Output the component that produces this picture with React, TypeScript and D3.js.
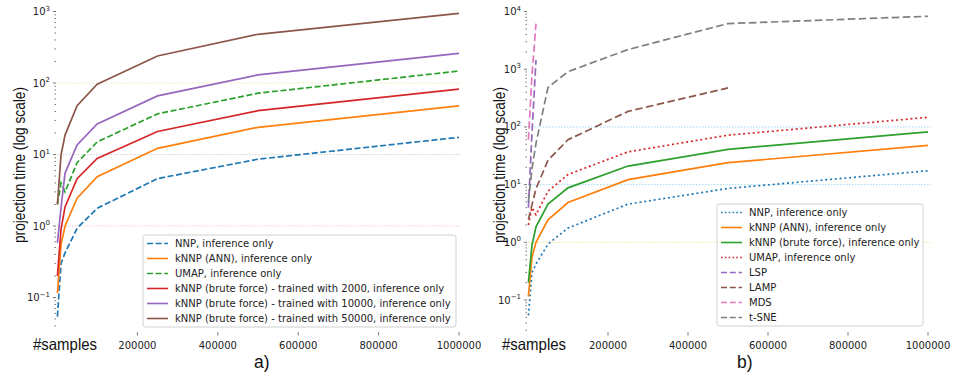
import React from "react";
import * as d3 from "d3";

// number of samples projected
const sampleSizes = [1000, 10000, 20000, 50000, 100000, 250000, 500000, 1000000];
const xTickValues = [200000, 400000, 600000, 800000, 1000000];

// projection times in seconds
const nnpTimes = [0.054, 0.3, 0.42, 0.93, 1.77, 4.6, 8.6, 17.4];
const knnpAnnTimes = [0.115, 0.55, 1.0, 2.45, 4.9, 12.2, 24, 48];
const umapTimes = [2.0, 4.0, 3.0, 7.7, 15, 37, 72, 147];
const knnpBf2000Times = [0.2, 0.9, 1.85, 4.6, 8.8, 21, 41, 82];
const knnpBf10000Times = [0.58, 1.8, 5.5, 13.6, 26.7, 66, 130, 260];
const knnpBf50000Times = [2.0, 9.8, 18.7, 48, 96, 239, 480, 944];

// other techniques (b), some only ran on the smaller sizes
const lspTimes = [4, 80, 1450];
const lampTimes = [2.5, 4.5, 8.5, 26.5, 60, 186, 475];
const mdsTimes = [60, 800, 6200];
const tsneTimes = [5, 19, 52, 485, 910, 2200, 6200, 8300];

const leftLabels = [
  "NNP, inference only",
  "kNNP (ANN), inference only",
  "UMAP, inference only",
  "kNNP (brute force) - trained with 2000, inference only",
  "kNNP (brute force) - trained with 10000, inference only",
  "kNNP (brute force) - trained with 50000, inference only",
];
const rightLabels = [
  "NNP, inference only",
  "kNNP (ANN), inference only",
  "kNNP (brute force), inference only",
  "UMAP, inference only",
  "LSP",
  "LAMP",
  "MDS",
  "t-SNE",
];

const C = {
  blue: "#1f77b4",
  orange: "#ff7f0e",
  green: "#2ca02c",
  red: "#d62728",
  purple: "#9467bd",
  brown: "#8c564b",
  pink: "#e377c2",
  gray: "#7f7f7f",
};

type Series = { label: string; ys: number[]; color: string; dash?: string };
type Grid = { value: number; color: string };

const SUP: Record<string, string> = { "-": "\u2212" };

function Panel(props: {
  xRange: [number, number];
  yDomain: [number, number];
  yRange: [number, number];
  tickMin: number;
  series: Series[];
  grid: Grid[];
  legend: { x: number; y: number; w: number };
  titleX: number;
  samplesX: number;
  panelLabel: string;
  panelX: number;
  legendDashScale: number;
}) {
  const x = d3.scaleLinear().domain([0, 1000000]).range(props.xRange);
  const y = d3.scaleLog().domain(props.yDomain).range(props.yRange);
  const axisX = props.xRange[0];

  const line = d3
    .line<number>()
    .x((_, i) => x(sampleSizes[i]))
    .y((d) => y(d));

  // major + minor log ticks that fall inside the picture
  const ticks: { v: number; major: boolean }[] = [];
  const e0 = Math.floor(Math.log10(props.tickMin));
  const e1 = Math.ceil(Math.log10(props.yDomain[1])) + 1;
  for (let e = e0; e <= e1; e++) {
    for (let m = 1; m <= 9; m++) {
      const v = m * Math.pow(10, e);
      if (v < props.tickMin * 0.999) continue;
      if (y(v) < 0) continue;
      ticks.push({ v, major: m === 1 });
    }
  }

  const lg = props.legend;
  const rowH = 15;
  const lgH = rowH * props.series.length + 2;

  return (
    <g>
      {props.grid.map((g) => (
        <line
          key={g.value}
          x1={axisX}
          x2={props.xRange[1] + 3}
          y1={y(g.value)}
          y2={y(g.value)}
          stroke={g.color}
          strokeWidth={1}
          strokeDasharray="1.5,1.5"
        />
      ))}

      {props.series.map((s) => (
        <path
          key={s.label}
          d={line(s.ys) || ""}
          fill="none"
          stroke={s.color}
          strokeWidth={1.7}
          strokeDasharray={s.dash}
        />
      ))}

      {/* y axis ticks */}
      {ticks.map((t) => (
        <line
          key={t.v}
          x1={axisX - (t.major ? 4 : 2.5)}
          x2={axisX - 1}
          y1={y(t.v)}
          y2={y(t.v)}
          stroke="#666"
          strokeWidth={0.9}
        />
      ))}
      {ticks
        .filter((t) => t.major && t.v >= 0.099)
        .map((t) => {
          const exp = String(Math.round(Math.log10(t.v)))
            .split("")
            .map((c) => SUP[c] || c)
            .join("");
          return (
            <text
              key={"l" + t.v}
              x={axisX - 7}
              y={y(t.v) + 3.5}
              textAnchor="end"
              fontFamily="DejaVu Sans"
              fontSize={10}
              fill="#222"
            >
              <tspan>10</tspan>
              <tspan dy={-4.5} fontSize={7}>
                {exp}
              </tspan>
            </text>
          );
        })}

      {/* x axis ticks */}
      {xTickValues.map((v) => (
        <g key={v}>
          <line x1={x(v)} x2={x(v)} y1={332} y2={335.5} stroke="#666" strokeWidth={0.9} />
          <text
            x={x(v)}
            y={348.5}
            textAnchor="middle"
            fontFamily="DejaVu Sans"
            fontSize={10}
            fill="#222"
          >
            {v}
          </text>
        </g>
      ))}

      <text
        transform={`translate(${props.titleX},165) rotate(-90)`}
        textAnchor="middle"
        fontFamily="Liberation Sans"
        fontSize={16.5}
        textLength={156}
        lengthAdjust="spacingAndGlyphs"
        fill="#111"
      >
        projection time (log scale)
      </text>
      <text
        x={props.samplesX}
        y={350}
        fontFamily="Liberation Sans"
        fontSize={16.5}
        textLength={64}
        lengthAdjust="spacingAndGlyphs"
        fill="#111"
      >
        #samples
      </text>
      <text x={props.panelX} y={368} fontFamily="Liberation Sans" fontSize={17.5} fill="#111">
        {props.panelLabel}
      </text>

      {/* legend */}
      <rect
        x={lg.x}
        y={lg.y}
        width={lg.w}
        height={lgH}
        rx={2.5}
        fill="#fff"
        fillOpacity={0.8}
        stroke="#d0d0d0"
        strokeWidth={1}
      />
      {props.series.map((s, i) => {
        const cy = lg.y + 8.5 + rowH * i;
        return (
          <g key={"lg" + s.label}>
            <line
              x1={lg.x + 4}
              x2={lg.x + 25}
              y1={cy}
              y2={cy}
              stroke={s.color}
              strokeWidth={1.6}
              strokeDasharray={
                s.dash
                  ? s.dash
                      .split(",")
                      .map((d) => +d * props.legendDashScale)
                      .join(",")
                  : undefined
              }
            />
            <text
              x={lg.x + 32}
              y={cy + 3.5}
              fontFamily="DejaVu Sans"
              fontSize={10}
              fill="#222"
            >
              {s.label}
            </text>
          </g>
        );
      })}
    </g>
  );
}

export default function App() {
  const dashL = "6,2.6";
  const dashR = "7.5,3.5";
  const dotR = "2,2.8";

  const leftSeries: Series[] = [
    { label: leftLabels[0], ys: nnpTimes, color: C.blue, dash: dashL },
    { label: leftLabels[1], ys: knnpAnnTimes, color: C.orange },
    { label: leftLabels[2], ys: umapTimes, color: C.green, dash: dashL },
    { label: leftLabels[3], ys: knnpBf2000Times, color: C.red },
    { label: leftLabels[4], ys: knnpBf10000Times, color: C.purple },
    { label: leftLabels[5], ys: knnpBf50000Times, color: C.brown },
  ];
  const rightSeries: Series[] = [
    { label: rightLabels[0], ys: nnpTimes, color: C.blue, dash: dotR },
    { label: rightLabels[1], ys: knnpAnnTimes, color: C.orange },
    { label: rightLabels[2], ys: knnpBf2000Times, color: C.green },
    { label: rightLabels[3], ys: umapTimes, color: C.red, dash: dotR },
    { label: rightLabels[4], ys: lspTimes, color: C.purple, dash: dashR },
    { label: rightLabels[5], ys: lampTimes, color: C.brown, dash: dashR },
    { label: rightLabels[6], ys: mdsTimes, color: C.pink, dash: dashR },
    { label: rightLabels[7], ys: tsneTimes, color: C.gray, dash: dashR },
  ];

  return (
    <svg
      width={953}
      height={377}
      style={{ position: "absolute", left: 0, top: 0, background: "#fff" }}
    >
      <rect width={953} height={377} fill="#fff" />
      <Panel
        xRange={[57, 459]}
        yDomain={[0.1, 1000]}
        yRange={[297.5, 11.5]}
        tickMin={0.04}
        series={leftSeries}
        grid={[
          { value: 100, color: "#e6ecb0" },
          { value: 10, color: "#d4d4d4" },
          { value: 1, color: "#f6c8d4" },
        ]}
        legend={{ x: 143, y: 235, w: 313 }}
        titleX={25}
        samplesX={33}
        panelLabel="a)"
        panelX={254}
        legendDashScale={1}
      />
      <Panel
        xRange={[528, 928]}
        yDomain={[0.1, 10000]}
        yRange={[300, 11.6]}
        tickMin={0.03}
        series={rightSeries}
        grid={[
          { value: 100, color: "#a6d6f2" },
          { value: 10, color: "#a6dcf0" },
          { value: 1, color: "#eaea90" },
        ]}
        legend={{ x: 717, y: 204, w: 206 }}
        titleX={505}
        samplesX={502}
        panelLabel="b)"
        panelX={737}
        legendDashScale={0.8}
      />
    </svg>
  );
}
